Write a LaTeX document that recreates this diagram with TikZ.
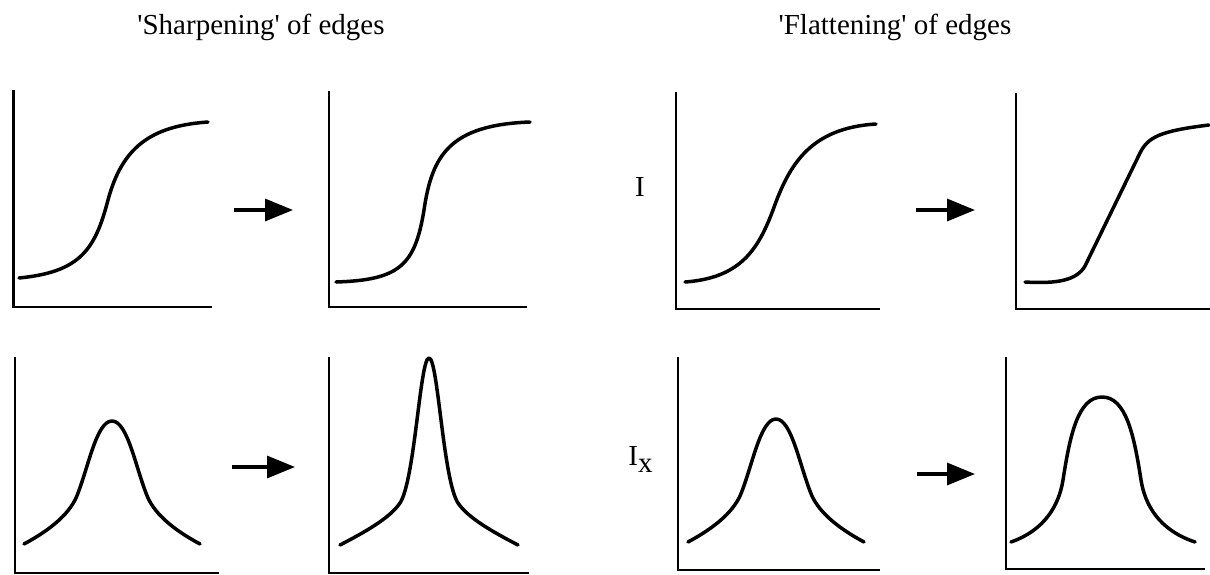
\documentclass[tikz,border=0pt]{standalone}
\usepackage{fontspec}
\setmainfont{Liberation Serif}
\usetikzlibrary{arrows.meta}
\tikzset{axis/.style={line width=1.35pt}}
\tikzset{curve/.style={line width=1.75pt, line cap=round, line join=round}}
\tikzset{bigarrow/.style={line width=1.65pt, -{Triangle[length=14pt, width=11pt]}}}
\newcommand{\faxes}[4]{\draw[axis] (#1,#2) |- (#3,#4);}

\begin{document}
\begin{tikzpicture}[x=0.5pt, y=-0.5pt, every node/.style={font=\fontsize{14.5pt}{17pt}\selectfont, inner sep=0pt}]
\useasboundingbox (0,0) rectangle (1210,574);
\node[anchor=base] (sharp) at (261,34) {\textquotesingle Sharpening\textquotesingle\ of edges};
\node[anchor=base] (flat) at (895,34) {\textquotesingle Flattening\textquotesingle\ of edges};
\node[anchor=base] (I) at (640,196) {I};
\node[anchor=base west] (Ix) at (628,465) {I\raisebox{-0.25em}{x}};
\faxes{13.5}{90}{212}{307}
\faxes{329}{91}{527}{307}
\faxes{15}{357}{219}{573}
\faxes{329}{357}{529}{573}
\faxes{676}{92}{880}{309}
\faxes{1016}{93}{1210}{309}
\faxes{678}{357}{880}{570}
\faxes{1006}{357}{1205}{569}
\draw[curve] (19,278) .. controls (80,272) and (95,250) .. (108,200) .. controls (122,148) and (150,126) .. (208,122);
\draw[curve] (336,282) .. controls (400,280) and (415,265) .. (424,210) .. controls (432,155) and (450,125) .. (530,122);
\draw[curve] (685,282) .. controls (740,278) and (758,250) .. (773,210) .. controls (789,165) and (810,128) .. (876,124);
\draw[curve] (1025,282) .. controls (1058,284) and (1077,280) .. (1085,266) -- (1140,153) .. controls (1148,137) and (1160,131) .. (1209,125);
\draw[curve] (24,544) .. controls (50,530) and (68,515) .. (76,498) .. controls (88,470) and (96,421) .. (112,421) .. controls (128,421) and (136,470) .. (148,498) .. controls (156,515) and (174,530) .. (200,544);
\draw[curve] (340,545) .. controls (365,532) and (390,518) .. (400,503) .. controls (415,480) and (420,358) .. (429,358) .. controls (438,358) and (443,480) .. (458,503) .. controls (468,518) and (493,532) .. (518,545);
\draw[curve] (688,542) .. controls (714,528) and (732,513) .. (740,496) .. controls (752,468) and (760,419) .. (776,419) .. controls (792,419) and (800,468) .. (812,496) .. controls (820,513) and (838,528) .. (864,542);
\draw[curve] (1011,542) .. controls (1045,530) and (1059,505) .. (1063,480) .. controls (1070,435) and (1078,397) .. (1102,397) .. controls (1126,397) and (1134,435) .. (1141,480) .. controls (1145,505) and (1159,530) .. (1195,542);
\draw[bigarrow] (234,210) -- (293,210);
\draw[bigarrow] (232,467) -- (295,467);
\draw[bigarrow] (916,210) -- (975,210);
\draw[bigarrow] (917,474) -- (975,474);
\end{tikzpicture}
\end{document}
